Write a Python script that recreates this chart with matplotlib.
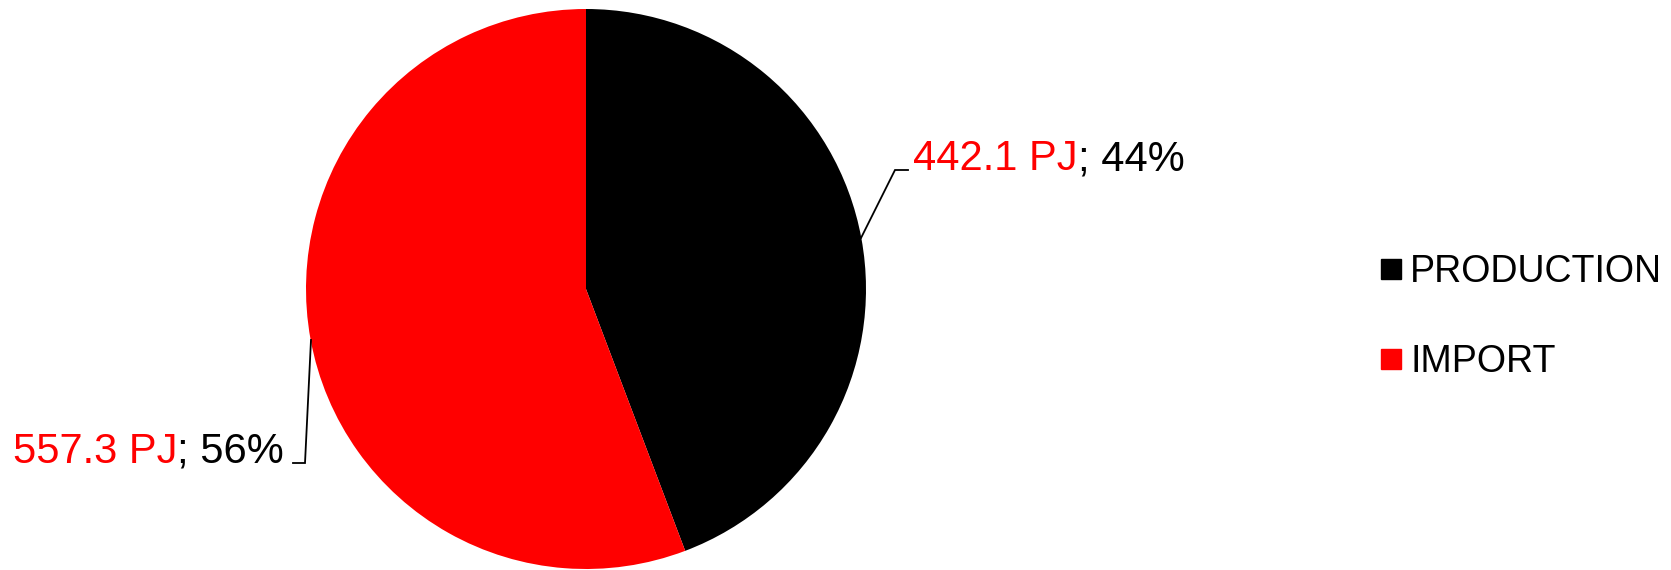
import matplotlib
matplotlib.use("Agg")
from matplotlib import pyplot as plt
from matplotlib.lines import Line2D

# values
labels = ["PRODUCTION", "IMPORT"]
values_pj = [442.1, 557.3]
percents = [44, 56]
colors = ["#000000", "#ff0000"]

W, H = 1671, 570
plt.rcParams["font.family"] = ["Liberation Sans", "DejaVu Sans"]

fig = plt.figure(figsize=(W / 100, H / 100), dpi=100)

# pie axes: centre (586, 289) px, radius 280 px
cx, cy, r = 586, 289, 280
ax = fig.add_axes([(cx - r) / W, 1 - (cy + r) / H, 2 * r / W, 2 * r / H])
ax.pie(values_pj, colors=colors, startangle=90, counterclock=False, radius=1,
       wedgeprops=dict(linewidth=0))
ax.set_xlim(-1, 1)
ax.set_ylim(-1, 1)
ax.set_aspect("equal")
ax.axis("off")


def px2data(px, py):
    return (px - cx) / r, (cy - py) / r


# leader lines (pie edge -> elbow -> end) in pixel coords
leaders = [
    [(861, 238), (895, 170), (908, 170)],
    [(311, 340), (305, 463), (293, 463)],
]
for pts in leaders:
    d = [px2data(*p) for p in pts]
    ax.plot([p[0] for p in d], [p[1] for p in d], color="black", lw=1.3,
            clip_on=False, solid_joinstyle="miter")

# labels: left x and baseline y in pixels
label_pos = [(913, 170), (13, 463)]
for (lx, ly), v, p in zip(label_pos, values_pj, percents):
    t = fig.text(lx / W, 1 - ly / H, f"{v:.1f} PJ", color="red", fontsize=30,
                 ha="left", va="baseline")
    ax.annotate(f"; {p}%", xy=(1, 0), xycoords=t, color="black", fontsize=30,
                ha="left", va="bottom")

handles = [Line2D([], [], marker="s", linestyle="none", markersize=14,
                  markerfacecolor=c, markeredgecolor=c) for c in colors]
fig.legend(handles, labels, loc="center left",
           bbox_to_anchor=(1380 / W, 1 - 317 / H), frameon=False,
           fontsize=27, handlelength=0.6, handletextpad=0.2,
           labelspacing=1.42, borderpad=0, borderaxespad=0)

fig.savefig("out.png", dpi=100)
